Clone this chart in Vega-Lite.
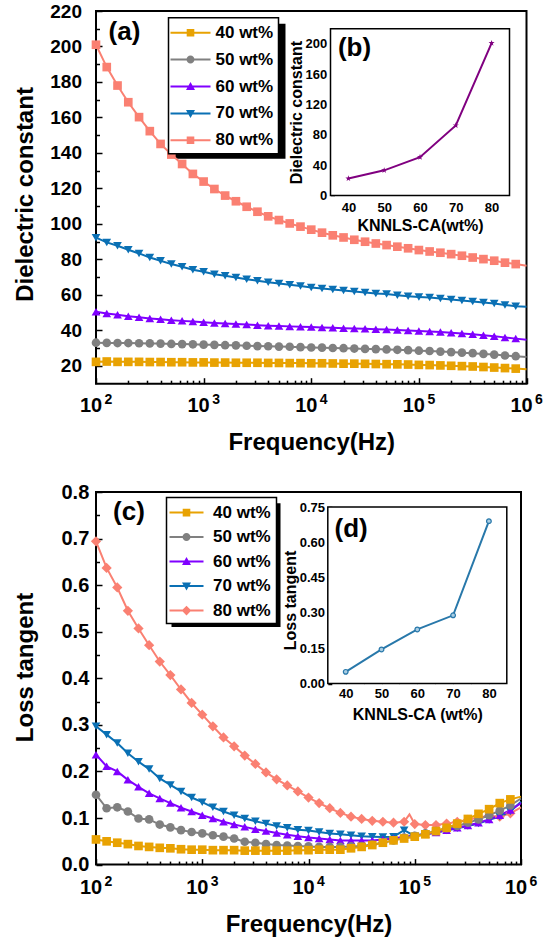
{
  "$schema": "https://vega.github.io/schema/vega-lite/v6.json",
  "background": "white",
  "padding": {"left": 12, "top": 1, "right": 5, "bottom": 5},
  "columns": 1,
  "spacing": 26,
  "resolve": {"scale": {"color": "independent", "shape": "independent"}},
  "datasets": {
    "dk": [
      {"f":100,"s":"80 wt%","v":201},{"f":125.89,"s":"80 wt%","v":188.4},{"f":158.49,"s":"80 wt%","v":178},{"f":199.53,"s":"80 wt%","v":168.6},{"f":251.19,"s":"80 wt%","v":160.2},{"f":316.23,"s":"80 wt%","v":152.3},{"f":398.11,"s":"80 wt%","v":145.1},{"f":501.19,"s":"80 wt%","v":139.1},{"f":630.96,"s":"80 wt%","v":133.8},{"f":794.33,"s":"80 wt%","v":128.2},
      {"f":1000,"s":"80 wt%","v":123.9},{"f":1258.9,"s":"80 wt%","v":119.7},{"f":1584.9,"s":"80 wt%","v":116},{"f":1995.3,"s":"80 wt%","v":112.8},{"f":2511.9,"s":"80 wt%","v":109.7},{"f":3162.3,"s":"80 wt%","v":106.9},{"f":3981.1,"s":"80 wt%","v":104.3},{"f":5011.9,"s":"80 wt%","v":102.2},{"f":6309.6,"s":"80 wt%","v":100.3},{"f":7943.3,"s":"80 wt%","v":98.5},
      {"f":10000,"s":"80 wt%","v":96.8},{"f":12589,"s":"80 wt%","v":95.1},{"f":15849,"s":"80 wt%","v":93.6},{"f":19953,"s":"80 wt%","v":92.4},{"f":25119,"s":"80 wt%","v":91.1},{"f":31623,"s":"80 wt%","v":90},{"f":39811,"s":"80 wt%","v":89},{"f":50119,"s":"80 wt%","v":88.1},{"f":63096,"s":"80 wt%","v":87.2},{"f":79433,"s":"80 wt%","v":86.3},
      {"f":100000,"s":"80 wt%","v":85.3},{"f":125893,"s":"80 wt%","v":84.5},{"f":158489,"s":"80 wt%","v":83.8},{"f":199526,"s":"80 wt%","v":83},{"f":251189,"s":"80 wt%","v":82.1},{"f":316228,"s":"80 wt%","v":81.1},{"f":398107,"s":"80 wt%","v":80.2},{"f":501187,"s":"80 wt%","v":79.3},{"f":630957,"s":"80 wt%","v":78.2},{"f":794328,"s":"80 wt%","v":77.4},{"f":1000000,"s":"80 wt%","v":76.4},

      {"f":100,"s":"70 wt%","v":92.3},{"f":125.89,"s":"70 wt%","v":89.6},{"f":158.49,"s":"70 wt%","v":87.7},{"f":199.53,"s":"70 wt%","v":85.5},{"f":251.19,"s":"70 wt%","v":83.4},{"f":316.23,"s":"70 wt%","v":81.1},{"f":398.11,"s":"70 wt%","v":79.3},{"f":501.19,"s":"70 wt%","v":77.4},{"f":630.96,"s":"70 wt%","v":75.9},{"f":794.33,"s":"70 wt%","v":74.2},
      {"f":1000,"s":"70 wt%","v":73.1},{"f":1258.9,"s":"70 wt%","v":71.7},{"f":1584.9,"s":"70 wt%","v":70.8},{"f":1995.3,"s":"70 wt%","v":69.9},{"f":2511.9,"s":"70 wt%","v":68.9},{"f":3162.3,"s":"70 wt%","v":68},{"f":3981.1,"s":"70 wt%","v":67.2},{"f":5011.9,"s":"70 wt%","v":66.5},{"f":6309.6,"s":"70 wt%","v":65.7},{"f":7943.3,"s":"70 wt%","v":65},
      {"f":10000,"s":"70 wt%","v":64.2},{"f":12589,"s":"70 wt%","v":63.7},{"f":15849,"s":"70 wt%","v":63.1},{"f":19953,"s":"70 wt%","v":62.5},{"f":25119,"s":"70 wt%","v":62},{"f":31623,"s":"70 wt%","v":61.4},{"f":39811,"s":"70 wt%","v":60.8},{"f":50119,"s":"70 wt%","v":60.5},{"f":63096,"s":"70 wt%","v":59.9},{"f":79433,"s":"70 wt%","v":59.3},
      {"f":100000,"s":"70 wt%","v":58.9},{"f":125893,"s":"70 wt%","v":58.6},{"f":158489,"s":"70 wt%","v":58},{"f":199526,"s":"70 wt%","v":57.4},{"f":251189,"s":"70 wt%","v":56.9},{"f":316228,"s":"70 wt%","v":56.3},{"f":398107,"s":"70 wt%","v":55.7},{"f":501187,"s":"70 wt%","v":55.2},{"f":630957,"s":"70 wt%","v":54.4},{"f":794328,"s":"70 wt%","v":53.7},{"f":1000000,"s":"70 wt%","v":53.4},

      {"f":100,"s":"60 wt%","v":50.5},{"f":125.89,"s":"60 wt%","v":49.5},{"f":158.49,"s":"60 wt%","v":48.8},{"f":199.53,"s":"60 wt%","v":48},{"f":251.19,"s":"60 wt%","v":47.4},{"f":316.23,"s":"60 wt%","v":46.8},{"f":398.11,"s":"60 wt%","v":46.3},{"f":501.19,"s":"60 wt%","v":45.8},{"f":630.96,"s":"60 wt%","v":45.4},{"f":794.33,"s":"60 wt%","v":45},
      {"f":1000,"s":"60 wt%","v":44.6},{"f":1258.9,"s":"60 wt%","v":44.2},{"f":1584.9,"s":"60 wt%","v":43.9},{"f":1995.3,"s":"60 wt%","v":43.6},{"f":2511.9,"s":"60 wt%","v":43.3},{"f":3162.3,"s":"60 wt%","v":43},{"f":3981.1,"s":"60 wt%","v":42.7},{"f":5011.9,"s":"60 wt%","v":42.5},{"f":6309.6,"s":"60 wt%","v":42.3},{"f":7943.3,"s":"60 wt%","v":42.1},
      {"f":10000,"s":"60 wt%","v":41.9},{"f":12589,"s":"60 wt%","v":41.7},{"f":15849,"s":"60 wt%","v":41.5},{"f":19953,"s":"60 wt%","v":41.3},{"f":25119,"s":"60 wt%","v":41.1},{"f":31623,"s":"60 wt%","v":40.9},{"f":39811,"s":"60 wt%","v":40.7},{"f":50119,"s":"60 wt%","v":40.5},{"f":63096,"s":"60 wt%","v":40.2},{"f":79433,"s":"60 wt%","v":40},
      {"f":100000,"s":"60 wt%","v":39.7},{"f":125893,"s":"60 wt%","v":39.4},{"f":158489,"s":"60 wt%","v":39.1},{"f":199526,"s":"60 wt%","v":38.7},{"f":251189,"s":"60 wt%","v":38.3},{"f":316228,"s":"60 wt%","v":37.8},{"f":398107,"s":"60 wt%","v":37.3},{"f":501187,"s":"60 wt%","v":36.7},{"f":630957,"s":"60 wt%","v":36.1},{"f":794328,"s":"60 wt%","v":35.4},{"f":1000000,"s":"60 wt%","v":34.8},

      {"f":100,"s":"50 wt%","v":33.1},{"f":125.89,"s":"50 wt%","v":33},{"f":158.49,"s":"50 wt%","v":32.9},{"f":199.53,"s":"50 wt%","v":32.9},{"f":251.19,"s":"50 wt%","v":32.8},{"f":316.23,"s":"50 wt%","v":32.7},{"f":398.11,"s":"50 wt%","v":32.6},{"f":501.19,"s":"50 wt%","v":32.4},{"f":630.96,"s":"50 wt%","v":32.3},{"f":794.33,"s":"50 wt%","v":32.2},
      {"f":1000,"s":"50 wt%","v":32},{"f":1258.9,"s":"50 wt%","v":31.9},{"f":1584.9,"s":"50 wt%","v":31.7},{"f":1995.3,"s":"50 wt%","v":31.6},{"f":2511.9,"s":"50 wt%","v":31.4},{"f":3162.3,"s":"50 wt%","v":31.2},{"f":3981.1,"s":"50 wt%","v":31.1},{"f":5011.9,"s":"50 wt%","v":30.9},{"f":6309.6,"s":"50 wt%","v":30.8},{"f":7943.3,"s":"50 wt%","v":30.6},
      {"f":10000,"s":"50 wt%","v":30.4},{"f":12589,"s":"50 wt%","v":30.3},{"f":15849,"s":"50 wt%","v":30.1},{"f":19953,"s":"50 wt%","v":30},{"f":25119,"s":"50 wt%","v":29.8},{"f":31623,"s":"50 wt%","v":29.6},{"f":39811,"s":"50 wt%","v":29.5},{"f":50119,"s":"50 wt%","v":29.3},{"f":63096,"s":"50 wt%","v":29.1},{"f":79433,"s":"50 wt%","v":28.9},
      {"f":100000,"s":"50 wt%","v":28.6},{"f":125893,"s":"50 wt%","v":28.4},{"f":158489,"s":"50 wt%","v":28.1},{"f":199526,"s":"50 wt%","v":27.8},{"f":251189,"s":"50 wt%","v":27.5},{"f":316228,"s":"50 wt%","v":27.2},{"f":398107,"s":"50 wt%","v":26.8},{"f":501187,"s":"50 wt%","v":26.4},{"f":630957,"s":"50 wt%","v":25.9},{"f":794328,"s":"50 wt%","v":25.5},{"f":1000000,"s":"50 wt%","v":25},

      {"f":100,"s":"40 wt%","v":22.3},{"f":125.89,"s":"40 wt%","v":22.5},{"f":158.49,"s":"40 wt%","v":22.3},{"f":199.53,"s":"40 wt%","v":22.3},{"f":251.19,"s":"40 wt%","v":22.3},{"f":316.23,"s":"40 wt%","v":22.2},{"f":398.11,"s":"40 wt%","v":22.2},{"f":501.19,"s":"40 wt%","v":22.1},{"f":630.96,"s":"40 wt%","v":22.1},{"f":794.33,"s":"40 wt%","v":22},
      {"f":1000,"s":"40 wt%","v":22},{"f":1258.9,"s":"40 wt%","v":21.9},{"f":1584.9,"s":"40 wt%","v":21.9},{"f":1995.3,"s":"40 wt%","v":21.8},{"f":2511.9,"s":"40 wt%","v":21.8},{"f":3162.3,"s":"40 wt%","v":21.8},{"f":3981.1,"s":"40 wt%","v":21.7},{"f":5011.9,"s":"40 wt%","v":21.7},{"f":6309.6,"s":"40 wt%","v":21.6},{"f":7943.3,"s":"40 wt%","v":21.6},
      {"f":10000,"s":"40 wt%","v":21.5},{"f":12589,"s":"40 wt%","v":21.5},{"f":15849,"s":"40 wt%","v":21.4},{"f":19953,"s":"40 wt%","v":21.3},{"f":25119,"s":"40 wt%","v":21.3},{"f":31623,"s":"40 wt%","v":21.2},{"f":39811,"s":"40 wt%","v":21.1},{"f":50119,"s":"40 wt%","v":21},{"f":63096,"s":"40 wt%","v":20.9},{"f":79433,"s":"40 wt%","v":20.8},
      {"f":100000,"s":"40 wt%","v":20.6},{"f":125893,"s":"40 wt%","v":20.5},{"f":158489,"s":"40 wt%","v":20.3},{"f":199526,"s":"40 wt%","v":20.1},{"f":251189,"s":"40 wt%","v":19.9},{"f":316228,"s":"40 wt%","v":19.7},{"f":398107,"s":"40 wt%","v":19.4},{"f":501187,"s":"40 wt%","v":19.1},{"f":630957,"s":"40 wt%","v":18.8},{"f":794328,"s":"40 wt%","v":18.5},{"f":1000000,"s":"40 wt%","v":18.2}
    ],
    "tan": [
      {"f":100,"s":"80 wt%","v":0.694},{"f":125.89,"s":"80 wt%","v":0.637},{"f":158.49,"s":"80 wt%","v":0.595},{"f":199.53,"s":"80 wt%","v":0.545},{"f":251.19,"s":"80 wt%","v":0.507},{"f":316.23,"s":"80 wt%","v":0.471},{"f":398.11,"s":"80 wt%","v":0.436},{"f":501.19,"s":"80 wt%","v":0.407},{"f":630.96,"s":"80 wt%","v":0.376},{"f":794.33,"s":"80 wt%","v":0.347},
      {"f":1000,"s":"80 wt%","v":0.322},{"f":1258.9,"s":"80 wt%","v":0.297},{"f":1584.9,"s":"80 wt%","v":0.273},{"f":1995.3,"s":"80 wt%","v":0.254},{"f":2511.9,"s":"80 wt%","v":0.234},{"f":3162.3,"s":"80 wt%","v":0.216},{"f":3981.1,"s":"80 wt%","v":0.198},{"f":5011.9,"s":"80 wt%","v":0.183},{"f":6309.6,"s":"80 wt%","v":0.17},{"f":7943.3,"s":"80 wt%","v":0.157},
      {"f":10000,"s":"80 wt%","v":0.144},{"f":12589,"s":"80 wt%","v":0.132},{"f":15849,"s":"80 wt%","v":0.121},{"f":19953,"s":"80 wt%","v":0.111},{"f":25119,"s":"80 wt%","v":0.103},{"f":31623,"s":"80 wt%","v":0.098},{"f":39811,"s":"80 wt%","v":0.094},{"f":50119,"s":"80 wt%","v":0.092},{"f":63096,"s":"80 wt%","v":0.09},{"f":79433,"s":"80 wt%","v":0.092},{"f":89125,"s":"80 wt%","v":0.108},
      {"f":100000,"s":"80 wt%","v":0.087},{"f":125893,"s":"80 wt%","v":0.085},{"f":158489,"s":"80 wt%","v":0.085},{"f":199526,"s":"80 wt%","v":0.088},{"f":251189,"s":"80 wt%","v":0.092},{"f":316228,"s":"80 wt%","v":0.096},{"f":398107,"s":"80 wt%","v":0.101},{"f":501187,"s":"80 wt%","v":0.105},{"f":630957,"s":"80 wt%","v":0.103},{"f":794328,"s":"80 wt%","v":0.11},{"f":1000000,"s":"80 wt%","v":0.123},

      {"f":100,"s":"70 wt%","v":0.297},{"f":125.89,"s":"70 wt%","v":0.279},{"f":158.49,"s":"70 wt%","v":0.261},{"f":199.53,"s":"70 wt%","v":0.239},{"f":251.19,"s":"70 wt%","v":0.221},{"f":316.23,"s":"70 wt%","v":0.205},{"f":398.11,"s":"70 wt%","v":0.185},{"f":501.19,"s":"70 wt%","v":0.171},{"f":630.96,"s":"70 wt%","v":0.157},{"f":794.33,"s":"70 wt%","v":0.144},
      {"f":1000,"s":"70 wt%","v":0.134},{"f":1258.9,"s":"70 wt%","v":0.123},{"f":1584.9,"s":"70 wt%","v":0.114},{"f":1995.3,"s":"70 wt%","v":0.106},{"f":2511.9,"s":"70 wt%","v":0.099},{"f":3162.3,"s":"70 wt%","v":0.093},{"f":3981.1,"s":"70 wt%","v":0.088},{"f":5011.9,"s":"70 wt%","v":0.083},{"f":6309.6,"s":"70 wt%","v":0.079},{"f":7943.3,"s":"70 wt%","v":0.075},
      {"f":10000,"s":"70 wt%","v":0.073},{"f":12589,"s":"70 wt%","v":0.07},{"f":15849,"s":"70 wt%","v":0.067},{"f":19953,"s":"70 wt%","v":0.065},{"f":25119,"s":"70 wt%","v":0.063},{"f":31623,"s":"70 wt%","v":0.061},{"f":39811,"s":"70 wt%","v":0.06},{"f":50119,"s":"70 wt%","v":0.059},{"f":63096,"s":"70 wt%","v":0.06},{"f":79433,"s":"70 wt%","v":0.074},
      {"f":100000,"s":"70 wt%","v":0.061},{"f":125893,"s":"70 wt%","v":0.065},{"f":158489,"s":"70 wt%","v":0.069},{"f":199526,"s":"70 wt%","v":0.073},{"f":251189,"s":"70 wt%","v":0.078},{"f":316228,"s":"70 wt%","v":0.083},{"f":398107,"s":"70 wt%","v":0.088},{"f":501187,"s":"70 wt%","v":0.096},{"f":630957,"s":"70 wt%","v":0.103},{"f":794328,"s":"70 wt%","v":0.114},{"f":1000000,"s":"70 wt%","v":0.135},

      {"f":100,"s":"60 wt%","v":0.236},{"f":125.89,"s":"60 wt%","v":0.211},{"f":158.49,"s":"60 wt%","v":0.2},{"f":199.53,"s":"60 wt%","v":0.182},{"f":251.19,"s":"60 wt%","v":0.167},{"f":316.23,"s":"60 wt%","v":0.153},{"f":398.11,"s":"60 wt%","v":0.142},{"f":501.19,"s":"60 wt%","v":0.132},{"f":630.96,"s":"60 wt%","v":0.122},{"f":794.33,"s":"60 wt%","v":0.114},
      {"f":1000,"s":"60 wt%","v":0.106},{"f":1258.9,"s":"60 wt%","v":0.099},{"f":1584.9,"s":"60 wt%","v":0.092},{"f":1995.3,"s":"60 wt%","v":0.086},{"f":2511.9,"s":"60 wt%","v":0.081},{"f":3162.3,"s":"60 wt%","v":0.076},{"f":3981.1,"s":"60 wt%","v":0.072},{"f":5011.9,"s":"60 wt%","v":0.068},{"f":6309.6,"s":"60 wt%","v":0.064},{"f":7943.3,"s":"60 wt%","v":0.061},
      {"f":10000,"s":"60 wt%","v":0.058},{"f":12589,"s":"60 wt%","v":0.056},{"f":15849,"s":"60 wt%","v":0.054},{"f":19953,"s":"60 wt%","v":0.052},{"f":25119,"s":"60 wt%","v":0.052},{"f":31623,"s":"60 wt%","v":0.052},{"f":39811,"s":"60 wt%","v":0.052},{"f":50119,"s":"60 wt%","v":0.054},{"f":63096,"s":"60 wt%","v":0.056},{"f":79433,"s":"60 wt%","v":0.06},
      {"f":100000,"s":"60 wt%","v":0.063},{"f":125893,"s":"60 wt%","v":0.065},{"f":158489,"s":"60 wt%","v":0.069},{"f":199526,"s":"60 wt%","v":0.074},{"f":251189,"s":"60 wt%","v":0.079},{"f":316228,"s":"60 wt%","v":0.084},{"f":398107,"s":"60 wt%","v":0.09},{"f":501187,"s":"60 wt%","v":0.097},{"f":630957,"s":"60 wt%","v":0.106},{"f":794328,"s":"60 wt%","v":0.117},{"f":1000000,"s":"60 wt%","v":0.132},

      {"f":100,"s":"50 wt%","v":0.15},{"f":125.89,"s":"50 wt%","v":0.121},{"f":158.49,"s":"50 wt%","v":0.123},{"f":199.53,"s":"50 wt%","v":0.114},{"f":251.19,"s":"50 wt%","v":0.099},{"f":316.23,"s":"50 wt%","v":0.097},{"f":398.11,"s":"50 wt%","v":0.086},{"f":501.19,"s":"50 wt%","v":0.08},{"f":630.96,"s":"50 wt%","v":0.074},{"f":794.33,"s":"50 wt%","v":0.07},
      {"f":1000,"s":"50 wt%","v":0.067},{"f":1258.9,"s":"50 wt%","v":0.063},{"f":1584.9,"s":"50 wt%","v":0.06},{"f":1995.3,"s":"50 wt%","v":0.056},{"f":2511.9,"s":"50 wt%","v":0.049},{"f":3162.3,"s":"50 wt%","v":0.047},{"f":3981.1,"s":"50 wt%","v":0.044},{"f":5011.9,"s":"50 wt%","v":0.042},{"f":6309.6,"s":"50 wt%","v":0.041},{"f":7943.3,"s":"50 wt%","v":0.04},
      {"f":10000,"s":"50 wt%","v":0.039},{"f":12589,"s":"50 wt%","v":0.038},{"f":15849,"s":"50 wt%","v":0.038},{"f":19953,"s":"50 wt%","v":0.038},{"f":25119,"s":"50 wt%","v":0.039},{"f":31623,"s":"50 wt%","v":0.04},{"f":39811,"s":"50 wt%","v":0.043},{"f":50119,"s":"50 wt%","v":0.047},{"f":63096,"s":"50 wt%","v":0.052},{"f":79433,"s":"50 wt%","v":0.058},
      {"f":100000,"s":"50 wt%","v":0.062},{"f":125893,"s":"50 wt%","v":0.067},{"f":158489,"s":"50 wt%","v":0.072},{"f":199526,"s":"50 wt%","v":0.078},{"f":251189,"s":"50 wt%","v":0.083},{"f":316228,"s":"50 wt%","v":0.09},{"f":398107,"s":"50 wt%","v":0.097},{"f":501187,"s":"50 wt%","v":0.106},{"f":630957,"s":"50 wt%","v":0.116},{"f":794328,"s":"50 wt%","v":0.127},{"f":1000000,"s":"50 wt%","v":0.142},

      {"f":100,"s":"40 wt%","v":0.054},{"f":125.89,"s":"40 wt%","v":0.05},{"f":158.49,"s":"40 wt%","v":0.047},{"f":199.53,"s":"40 wt%","v":0.044},{"f":251.19,"s":"40 wt%","v":0.04},{"f":316.23,"s":"40 wt%","v":0.038},{"f":398.11,"s":"40 wt%","v":0.036},{"f":501.19,"s":"40 wt%","v":0.035},{"f":630.96,"s":"40 wt%","v":0.033},{"f":794.33,"s":"40 wt%","v":0.032},
      {"f":1000,"s":"40 wt%","v":0.032},{"f":1258.9,"s":"40 wt%","v":0.031},{"f":1584.9,"s":"40 wt%","v":0.031},{"f":1995.3,"s":"40 wt%","v":0.031},{"f":2511.9,"s":"40 wt%","v":0.03},{"f":3162.3,"s":"40 wt%","v":0.03},{"f":3981.1,"s":"40 wt%","v":0.03},{"f":5011.9,"s":"40 wt%","v":0.03},{"f":6309.6,"s":"40 wt%","v":0.03},{"f":7943.3,"s":"40 wt%","v":0.031},
      {"f":10000,"s":"40 wt%","v":0.031},{"f":12589,"s":"40 wt%","v":0.032},{"f":15849,"s":"40 wt%","v":0.032},{"f":19953,"s":"40 wt%","v":0.032},{"f":25119,"s":"40 wt%","v":0.035},{"f":31623,"s":"40 wt%","v":0.038},{"f":39811,"s":"40 wt%","v":0.042},{"f":50119,"s":"40 wt%","v":0.047},{"f":63096,"s":"40 wt%","v":0.052},{"f":79433,"s":"40 wt%","v":0.056},
      {"f":100000,"s":"40 wt%","v":0.06},{"f":125893,"s":"40 wt%","v":0.065},{"f":158489,"s":"40 wt%","v":0.072},{"f":199526,"s":"40 wt%","v":0.079},{"f":251189,"s":"40 wt%","v":0.088},{"f":316228,"s":"40 wt%","v":0.098},{"f":398107,"s":"40 wt%","v":0.109},{"f":501187,"s":"40 wt%","v":0.119},{"f":630957,"s":"40 wt%","v":0.132},{"f":794328,"s":"40 wt%","v":0.14},{"f":1000000,"s":"40 wt%","v":0.146}
    ],
    "dkInset": [
      {"wt":40,"v":22.3},{"wt":50,"v":33.1},{"wt":60,"v":50.5},{"wt":70,"v":92.3},{"wt":80,"v":201}
    ],
    "tanInset": [
      {"wt":40,"v":0.05},{"wt":50,"v":0.145},{"wt":60,"v":0.23},{"wt":70,"v":0.29},{"wt":80,"v":0.69}
    ]
  },
  "concat": [
    {
      "width": 430.5,
      "height": 372.7,
      "resolve": {"scale": {"x": "independent", "y": "independent"}},
      "layer": [
        {
          "data": {"values": [{}]},
          "mark": {"type": "rect", "color": "black"},
          "encoding": {
            "x": {"datum": 535.5, "type": "quantitative", "scale": {"type": "log", "domain": [100, 1000000], "nice": false}, "axis": null},
            "x2": {"datum": 5763},
            "y": {"datum": 212.8, "type": "quantitative", "scale": {"domain": [10, 220], "nice": false, "zero": false}, "axis": null},
            "y2": {"datum": 136.8}
          }
        },
        {
          "data": {"name": "dk"},
          "mark": {"type": "line", "strokeWidth": 2},
          "encoding": {
            "x": {"field": "f", "type": "quantitative", "scale": {"type": "log", "domain": [100, 1000000], "nice": false},
              "axis": {"orient": "bottom", "values": [100, 1000, 10000, 100000, 1000000], "labelExpr": "'10'", "labelFontSize": 20, "labelOffset": -5.5, "labelPadding": 17.8, "tickSize": -6, "title": "Frequency(Hz)", "titleFontSize": 24, "titlePadding": 14.5}},
            "y": {"field": "v", "type": "quantitative", "scale": {"domain": [10, 220], "nice": false, "zero": false},
              "axis": {"orient": "left", "values": [20, 40, 60, 80, 100, 120, 140, 160, 180, 200, 220], "labelFontSize": 19, "labelPadding": 20.5, "tickSize": -6, "title": "Dielectric constant", "titleFontSize": 24, "titlePadding": 12.1, "titleY": 183}},
            "color": {"field": "s", "type": "nominal", "scale": {"domain": ["40 wt%", "50 wt%", "60 wt%", "70 wt%", "80 wt%"], "range": ["#E8A202", "#808080", "#8000FF", "#0A70B4", "#FA8072"]},
              "legend": {"orient": "none", "legendX": 72.5, "legendY": 6.7, "title": null, "padding": 5, "rowPadding": 8.9, "symbolSize": 400, "symbolOffset": 7, "labelOffset": 15, "labelFontSize": 17, "strokeColor": "black", "fillColor": "white", "symbolStrokeWidth": 0,
                "encode": {
                  "legend": {"update": {"strokeWidth": {"value": 1.5}}},
                  "symbols": {"update": {
                    "fill": {"signal": "datum.value === '40 wt%' ? '#E8A202' : datum.value === '50 wt%' ? '#808080' : datum.value === '60 wt%' ? '#8000FF' : datum.value === '70 wt%' ? '#0A70B4' : '#FA8072'"},
                    "shape": {"signal": "datum.value === '50 wt%' ? 'M-2,-0.1H2V0.1H-2Z M-0.4,0A0.4,0.4 0 1,1 0.4,0A0.4,0.4 0 1,1 -0.4,0Z' : datum.value === '60 wt%' ? 'M-2,-0.1H2V0.1H-2Z M0,-0.45L0.45,0.35H-0.45Z' : datum.value === '70 wt%' ? 'M-2,-0.1H2V0.1H-2Z M0,0.45L-0.45,-0.35H0.45Z' : 'M-2,-0.1H2V0.1H-2Z M-0.38,-0.38H0.38V0.38H-0.38Z'"}
                  }}
                }}}
          }
        },
        {
          "data": {"name": "dk"},
          "transform": [{"filter": "datum.f < 900000"}],
          "mark": {"type": "point", "filled": true, "opacity": 1, "size": 75},
          "encoding": {
            "x": {"field": "f", "type": "quantitative", "scale": {"type": "log", "domain": [100, 1000000], "nice": false},
              "axis": {"orient": "bottom", "values": [100, 1000, 10000, 100000, 1000000], "labelExpr": "'' + round(log(datum.value) / LN10)", "labelFontSize": 14, "labelOffset": 12, "labelPadding": 9, "ticks": false, "title": null}},
            "y": {"field": "v", "type": "quantitative", "scale": {"domain": [10, 220], "nice": false, "zero": false},
              "axis": {"orient": "left", "values": [30, 50, 70, 90, 110, 130, 150, 170, 190, 210], "labels": false, "tickSize": -3.5, "title": null}},
            "color": {"field": "s", "type": "nominal", "legend": null},
            "shape": {"field": "s", "type": "nominal", "scale": {"range": ["square", "circle", "triangle-up", "triangle-down", "square"]}, "legend": null}
          }
        },
        {
          "data": {"values": [{}]},
          "mark": {"type": "text", "text": "(a)", "fontSize": 26, "fontWeight": "bold", "align": "center", "baseline": "alphabetic"},
          "encoding": {
            "x": {"datum": 184, "type": "quantitative", "scale": {"type": "log", "domain": [100, 1000000], "nice": false},
              "axis": {"orient": "bottom", "values": [200, 300, 400, 500, 600, 700, 800, 900, 2000, 3000, 4000, 5000, 6000, 7000, 8000, 9000, 20000, 30000, 40000, 50000, 60000, 70000, 80000, 90000, 200000, 300000, 400000, 500000, 600000, 700000, 800000, 900000], "labels": false, "tickSize": -3.5, "title": null}},
            "y": {"datum": 203.7, "type": "quantitative", "scale": {"domain": [10, 220], "nice": false, "zero": false}, "axis": null}
          }
        },
        {
          "data": {"values": [{}]},
          "mark": {"type": "rect", "fill": "white", "stroke": "black", "strokeWidth": 1.5},
          "encoding": {
            "x": {"datum": 35, "type": "quantitative", "scale": {"domain": [35, 85], "range": [234.5, 413.5], "nice": false, "zero": false},
              "axis": {"orient": "bottom", "offset": -188.3, "values": [45, 55, 65, 75], "labels": false, "tickSize": -2.5, "title": null}},
            "x2": {"datum": 85},
            "y": {"datum": 0, "type": "quantitative", "scale": {"domain": [0, 220], "range": [184.4, 17.7], "nice": false},
              "axis": {"orient": "left", "offset": -234.5, "values": [20, 60, 100, 140, 180], "labels": false, "tickSize": -2.5, "title": null}},
            "y2": {"datum": 220}
          }
        },
        {
          "data": {"name": "dkInset"},
          "mark": {"type": "line", "color": "#800080", "strokeWidth": 2},
          "encoding": {
            "x": {"field": "wt", "type": "quantitative", "scale": {"domain": [35, 85], "range": [234.5, 413.5], "nice": false, "zero": false},
              "axis": {"orient": "bottom", "offset": -188.3, "values": [40, 50, 60, 70, 80], "labelFontSize": 13, "labelPadding": 9.6, "tickSize": -4, "title": "KNNLS-CA(wt%)", "titleFontSize": 16, "titlePadding": 3}},
            "y": {"field": "v", "type": "quantitative", "scale": {"domain": [0, 220], "range": [184.4, 17.7], "nice": false},
              "axis": {"orient": "left", "offset": -234.5, "values": [0, 40, 80, 120, 160, 200], "labelFontSize": 13, "labelPadding": 7.7, "tickSize": -4, "title": "Dielectric constant", "titleFontSize": 16, "titlePadding": 1}}
          }
        },
        {
          "data": {"name": "dkInset"},
          "mark": {"type": "point", "filled": true, "opacity": 1, "color": "#800080", "size": 40, "shape": "M0,-1L0.235,-0.324L0.951,-0.309L0.38,0.124L0.588,0.809L0,0.4L-0.588,0.809L-0.38,0.124L-0.951,-0.309L-0.235,-0.324Z"},
          "encoding": {
            "x": {"field": "wt", "type": "quantitative", "scale": {"domain": [35, 85], "range": [234.5, 413.5], "nice": false, "zero": false}, "axis": null},
            "y": {"field": "v", "type": "quantitative", "scale": {"domain": [0, 220], "range": [184.4, 17.7], "nice": false}, "axis": null}
          }
        },
        {
          "data": {"values": [{}]},
          "mark": {"type": "text", "text": "(b)", "fontSize": 26, "fontWeight": "bold", "align": "center", "baseline": "alphabetic"},
          "encoding": {
            "x": {"datum": 41.7, "type": "quantitative", "scale": {"domain": [35, 85], "range": [234.5, 413.5], "nice": false, "zero": false}, "axis": null},
            "y": {"datum": 183.7, "type": "quantitative", "scale": {"domain": [0, 220], "range": [184.4, 17.7], "nice": false}, "axis": null}
          }
        }
      ]
    },
    {
      "width": 425,
      "height": 372.6,
      "resolve": {"scale": {"x": "independent", "y": "independent"}},
      "layer": [
        {
          "data": {"values": [{}]},
          "mark": {"type": "rect", "color": "black"},
          "encoding": {
            "x": {"datum": 513.6, "type": "quantitative", "scale": {"type": "log", "domain": [100, 1000000], "nice": false}, "axis": null},
            "x2": {"datum": 5452},
            "y": {"datum": 0.776, "type": "quantitative", "scale": {"domain": [0, 0.8], "nice": false}, "axis": null},
            "y2": {"datum": 0.51}
          }
        },
        {
          "data": {"name": "tan"},
          "mark": {"type": "line", "strokeWidth": 2},
          "encoding": {
            "x": {"field": "f", "type": "quantitative", "scale": {"type": "log", "domain": [100, 1000000], "nice": false},
              "axis": {"orient": "bottom", "values": [100, 1000, 10000, 100000, 1000000], "labelExpr": "'10'", "labelFontSize": 20, "labelOffset": -5.5, "labelPadding": 18.5, "tickSize": -6, "title": "Frequency(Hz)", "titleFontSize": 24, "titlePadding": 15}},
            "y": {"field": "v", "type": "quantitative", "scale": {"domain": [0, 0.8], "nice": false},
              "axis": {"orient": "left", "values": [0, 0.1, 0.2, 0.3, 0.4, 0.5, 0.6, 0.7, 0.8], "format": ".1f", "labelFontSize": 20, "labelPadding": 13.2, "tickSize": -6, "title": "Loss tangent", "titleFontSize": 24, "titlePadding": 23.6, "titleY": 175}},
            "color": {"field": "s", "type": "nominal", "scale": {"domain": ["40 wt%", "50 wt%", "60 wt%", "70 wt%", "80 wt%"], "range": ["#E8A202", "#808080", "#8000FF", "#0A70B4", "#FA8072"]},
              "legend": {"orient": "none", "legendX": 70.5, "legendY": 5.6, "title": null, "padding": 5, "rowPadding": 6.5, "symbolSize": 400, "symbolOffset": 5, "labelOffset": 16.6, "labelFontSize": 17, "strokeColor": "black", "fillColor": "white", "symbolStrokeWidth": 0,
                "encode": {
                  "legend": {"update": {"strokeWidth": {"value": 1.5}}},
                  "symbols": {"update": {
                    "fill": {"signal": "datum.value === '40 wt%' ? '#E8A202' : datum.value === '50 wt%' ? '#808080' : datum.value === '60 wt%' ? '#8000FF' : datum.value === '70 wt%' ? '#0A70B4' : '#FA8072'"},
                    "shape": {"signal": "datum.value === '50 wt%' ? 'M-1.7,-0.1H1.7V0.1H-1.7Z M-0.4,0A0.4,0.4 0 1,1 0.4,0A0.4,0.4 0 1,1 -0.4,0Z' : datum.value === '60 wt%' ? 'M-1.7,-0.1H1.7V0.1H-1.7Z M0,-0.45L0.45,0.35H-0.45Z' : datum.value === '70 wt%' ? 'M-1.7,-0.1H1.7V0.1H-1.7Z M0,0.45L-0.45,-0.35H0.45Z' : datum.value === '80 wt%' ? 'M-1.7,-0.1H1.7V0.1H-1.7Z M0,-0.48L0.48,0L0,0.48L-0.48,0Z' : 'M-1.7,-0.1H1.7V0.1H-1.7Z M-0.38,-0.38H0.38V0.38H-0.38Z'"}
                  }}
                }}}
          }
        },
        {
          "data": {"name": "tan"},
          "transform": [{"filter": "datum.f < 900000 && datum.f != 89125"}],
          "mark": {"type": "point", "filled": true, "opacity": 1},
          "encoding": {
            "x": {"field": "f", "type": "quantitative", "scale": {"type": "log", "domain": [100, 1000000], "nice": false},
              "axis": {"orient": "bottom", "values": [100, 1000, 10000, 100000, 1000000], "labelExpr": "'' + round(log(datum.value) / LN10)", "labelFontSize": 14, "labelOffset": 12, "labelPadding": 10, "ticks": false, "title": null}},
            "y": {"field": "v", "type": "quantitative", "scale": {"domain": [0, 0.8], "nice": false},
              "axis": {"orient": "left", "values": [0.05, 0.15, 0.25, 0.35, 0.45, 0.55, 0.65, 0.75], "labels": false, "tickSize": -3.5, "title": null}},
            "size": {"condition": {"test": "datum.s === '80 wt%'", "value": 105}, "value": 75},
            "color": {"field": "s", "type": "nominal", "legend": null},
            "shape": {"field": "s", "type": "nominal", "scale": {"range": ["square", "circle", "triangle-up", "triangle-down", "diamond"]}, "legend": null}
          }
        },
        {
          "data": {"values": [{}]},
          "mark": {"type": "text", "text": "(c)", "fontSize": 26, "fontWeight": "bold", "align": "center", "baseline": "alphabetic"},
          "encoding": {
            "x": {"datum": 204.5, "type": "quantitative", "scale": {"type": "log", "domain": [100, 1000000], "nice": false},
              "axis": {"orient": "bottom", "values": [200, 300, 400, 500, 600, 700, 800, 900, 2000, 3000, 4000, 5000, 6000, 7000, 8000, 9000, 20000, 30000, 40000, 50000, 60000, 70000, 80000, 90000, 200000, 300000, 400000, 500000, 600000, 700000, 800000, 900000], "labels": false, "tickSize": -3.5, "title": null}},
            "y": {"datum": 0.7403, "type": "quantitative", "scale": {"domain": [0, 0.8], "nice": false}, "axis": null}
          }
        },
        {
          "data": {"values": [{}]},
          "mark": {"type": "rect", "fill": "white", "stroke": "black", "strokeWidth": 1.5},
          "encoding": {
            "x": {"datum": 35, "type": "quantitative", "scale": {"domain": [35, 85], "range": [231.8, 410.8], "nice": false, "zero": false},
              "axis": {"orient": "bottom", "offset": -181, "values": [45, 55, 65, 75], "labels": false, "tickSize": -2.5, "title": null}},
            "x2": {"datum": 85},
            "y": {"datum": 0, "type": "quantitative", "scale": {"domain": [0, 0.75], "range": [191.6, 15], "nice": false},
              "axis": {"orient": "left", "offset": -231.8, "values": [0.075, 0.225, 0.375, 0.525, 0.675], "labels": false, "tickSize": -2.5, "title": null}},
            "y2": {"datum": 0.75}
          }
        },
        {
          "data": {"name": "tanInset"},
          "mark": {"type": "line", "color": "#2878AA", "strokeWidth": 2},
          "encoding": {
            "x": {"field": "wt", "type": "quantitative", "scale": {"domain": [35, 85], "range": [231.8, 410.8], "nice": false, "zero": false},
              "axis": {"orient": "bottom", "offset": -181, "values": [40, 50, 60, 70, 80], "labelFontSize": 13, "labelPadding": 8, "tickSize": -4, "title": "KNNLS-CA (wt%)", "titleFontSize": 16, "titlePadding": 6}},
            "y": {"field": "v", "type": "quantitative", "scale": {"domain": [0, 0.75], "range": [191.6, 15], "nice": false},
              "axis": {"orient": "left", "offset": -231.8, "values": [0, 0.15, 0.3, 0.45, 0.6, 0.75], "format": ".2f", "labelFontSize": 13, "labelPadding": 7.3, "tickSize": -4, "title": "Loss tangent", "titleFontSize": 16, "titlePadding": 1, "titleY": 108}}
          }
        },
        {
          "data": {"name": "tanInset"},
          "mark": {"type": "point", "filled": false, "fill": "#A9CDE3", "fillOpacity": 1, "stroke": "#2878AA", "strokeWidth": 1.2, "opacity": 1, "size": 22, "shape": "circle"},
          "encoding": {
            "x": {"field": "wt", "type": "quantitative", "scale": {"domain": [35, 85], "range": [231.8, 410.8], "nice": false, "zero": false}, "axis": null},
            "y": {"field": "v", "type": "quantitative", "scale": {"domain": [0, 0.75], "range": [191.6, 15], "nice": false}, "axis": null}
          }
        },
        {
          "data": {"values": [{}]},
          "mark": {"type": "text", "text": "(d)", "fontSize": 26, "fontWeight": "bold", "align": "center", "baseline": "alphabetic"},
          "encoding": {
            "x": {"datum": 41.5, "type": "quantitative", "scale": {"domain": [35, 85], "range": [231.8, 410.8], "nice": false, "zero": false}, "axis": null},
            "y": {"datum": 0.6234, "type": "quantitative", "scale": {"domain": [0, 0.75], "range": [191.6, 15], "nice": false}, "axis": null}
          }
        }
      ]
    }
  ],
  "config": {
    "font": "Liberation Sans",
    "view": {"stroke": "black", "strokeWidth": 2},
    "axis": {
      "labelFont": "Liberation Sans", "labelFontWeight": "bold", "labelColor": "black",
      "titleFont": "Liberation Sans", "titleFontWeight": "bold", "titleColor": "black",
      "tickColor": "black", "tickWidth": 1.5, "domain": false, "grid": false,
      "labelFlush": false, "labelOverlap": false, "zindex": 1
    },
    "legend": {"labelFont": "Liberation Sans", "labelFontWeight": "bold", "labelColor": "black"},
    "text": {"font": "Liberation Sans", "color": "black"}
  }
}
